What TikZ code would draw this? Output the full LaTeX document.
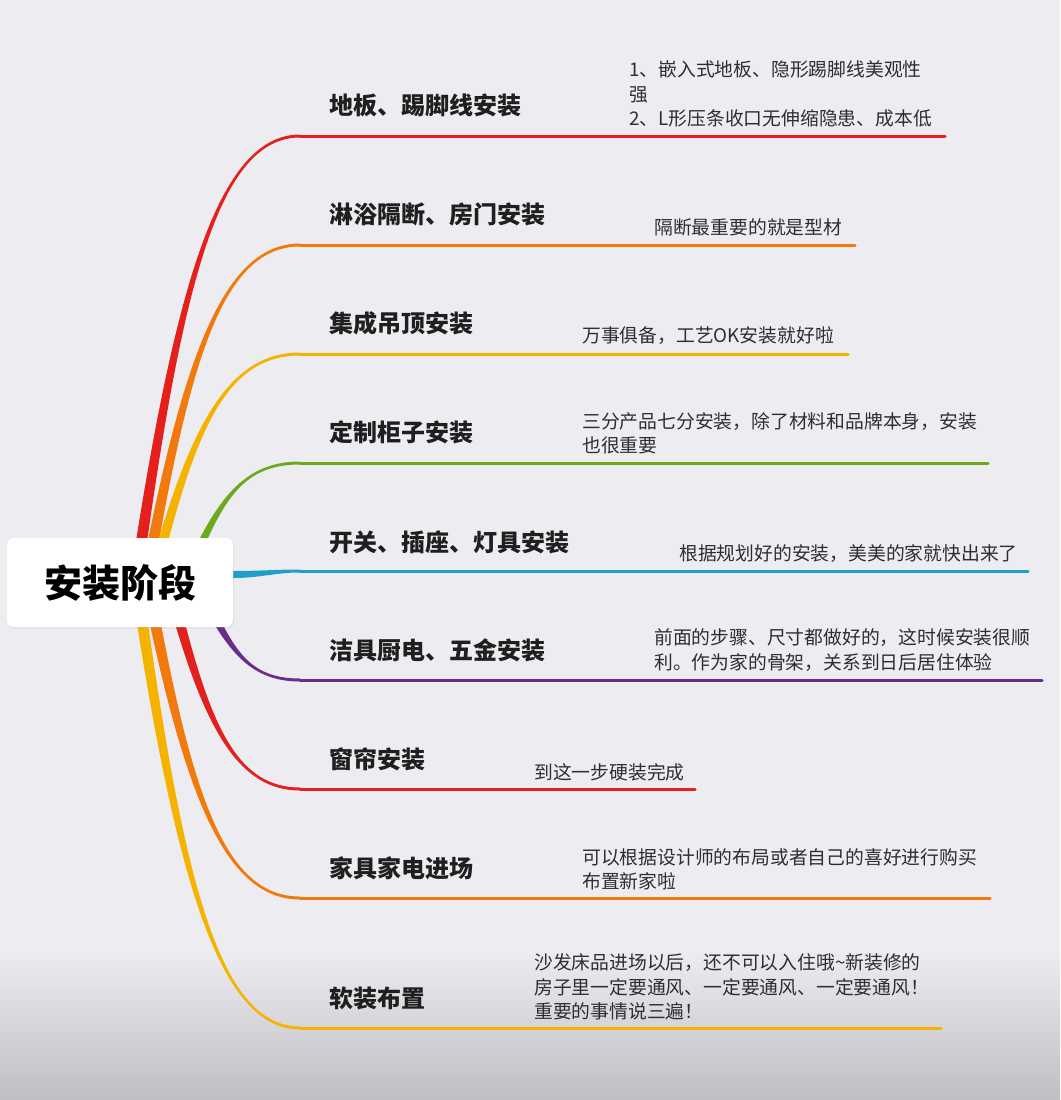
\documentclass[tikz,border=0pt]{standalone}
\usepackage{fontspec}
\setmainfont{Noto Sans CJK SC}
\usetikzlibrary{shadows}
\definecolor{bgcol}{HTML}{EDEDF1}
\definecolor{bgdark}{HTML}{BEBEC3}
\definecolor{brred}{HTML}{E3201B}
\definecolor{brorange}{HTML}{F27A0C}
\definecolor{brgold}{HTML}{F5B300}
\definecolor{brgreen}{HTML}{6CA91C}
\definecolor{brblue}{HTML}{1E9FCB}
\definecolor{brpurple}{HTML}{6A2B8A}
\tikzset{
  topic/.style={anchor=west,inner sep=0pt,text=black!88,font=\fontsize{24}{28}\selectfont\bfseries},
  note/.style={anchor=west,inner sep=0pt,align=left,text=black!82,font=\fontsize{18.8}{24.2}\selectfont},
  rootbox/.style={fill=white,rounded corners=7pt,minimum width=226pt,minimum height=89pt,inner sep=0pt,
    font=\fontsize{38}{40}\selectfont\bfseries,drop shadow={opacity=0.12,shadow xshift=1pt,shadow yshift=-1.5pt}}
}
\begin{document}
\begin{tikzpicture}[x=1pt,y=-1pt,line cap=round,line join=round]
\useasboundingbox (0,0) rectangle (1060,1100);
\fill[bgcol] (0,0) rectangle (1060,1100);
\shade[top color=bgcol,bottom color=bgdark] (0,950) rectangle (1060,1100);
% branches above the root
\foreach \n/\xo/\w/\yl/\xe/\col in {1/142/11/136/945/brred,2/154/11/245/855/brorange,3/164/10/354/848/brgold,4/204/8/463/988/brgreen}{
  \pgfmathsetmacro\h{\w/2}
  \pgfmathsetmacro\ax{\xo+0.25*(300-\xo)}
  \pgfmathsetmacro\ay{538+0.65*(\yl-538)}
  \pgfmathsetmacro\bx{\xo+0.5*(300-\xo)}
  \coordinate (r\n) at (\xo,538);
  \coordinate (b\n) at (300,\yl);
  \coordinate (e\n) at (\xe,\yl);
  \fill[\col] ([xshift=-\h pt,yshift=-12pt]r\n) -- ([xshift=-\h pt]r\n) .. controls (\ax-0.6*\h,\ay) and (\bx,\yl-1.5) .. ([yshift=1.5pt]b\n)
    -- ([yshift=-1.5pt]b\n) .. controls (\bx,\yl+1.5) and (\ax+0.6*\h,\ay) .. ([xshift=\h pt]r\n) -- ([xshift=\h pt,yshift=-12pt]r\n) -- cycle;
  \draw[\col,line width=3pt] (b\n) -- (e\n);
}
% branch on the right
\coordinate (r5) at (233,574.5);
\coordinate (b5) at (300,571);
\coordinate (e5) at (1028,571);
\fill[brblue] ([xshift=-10pt,yshift=3.5pt]r5) -- ([yshift=3.5pt]r5) .. controls (260,571) and (275,569.5) .. ([yshift=1.5pt]b5)
  -- ([yshift=-1.5pt]b5) .. controls (275,572.5) and (260,578) .. ([yshift=-3.5pt]r5) -- ([xshift=-10pt,yshift=-3.5pt]r5) -- cycle;
\draw[brblue,line width=3pt] (b5) -- (e5);
% branches below the root
\foreach \n/\xo/\w/\yl/\xe/\col in {6/220/8/680/1042/brpurple,7/181/10/789/695/brred,8/156/11/898/990/brorange,9/143/11/1028/941/brgold}{
  \pgfmathsetmacro\h{\w/2}
  \pgfmathsetmacro\ax{\xo+0.25*(300-\xo)}
  \pgfmathsetmacro\ay{627+0.65*(\yl-627)}
  \pgfmathsetmacro\bx{\xo+0.5*(300-\xo)}
  \coordinate (r\n) at (\xo,627);
  \coordinate (b\n) at (300,\yl);
  \coordinate (e\n) at (\xe,\yl);
  \fill[\col] ([xshift=-\h pt,yshift=12pt]r\n) -- ([xshift=-\h pt]r\n) .. controls (\ax-0.6*\h,\ay) and (\bx,\yl+1.5) .. ([yshift=-1.5pt]b\n)
    -- ([yshift=1.5pt]b\n) .. controls (\bx,\yl-1.5) and (\ax+0.6*\h,\ay) .. ([xshift=\h pt]r\n) -- ([xshift=\h pt,yshift=12pt]r\n) -- cycle;
  \draw[\col,line width=3pt] (b\n) -- (e\n);
}
\node[rootbox] (root) at (120,582.5) {安装阶段};
% topics
\foreach \n/\y/\txt in {1/105/地板、踢脚线安装,2/214/淋浴隔断、房门安装,3/323/集成吊顶安装,4/432/定制柜子安装,5/542/开关、插座、灯具安装,6/650/洁具厨电、五金安装,7/759/窗帘安装,8/868/家具家电进场,9/998/软装布置}
  \node[topic] (t\n) at (329,\y) {\txt};
% notes
\node[note] (n1) at (629,94) {1、嵌入式地板、隐形踢脚线美观性\\强\\2、L形压条收口无伸缩隐患、成本低};
\node[note] (n2) at (654,227) {隔断最重要的就是型材};
\node[note] (n3) at (582,336) {万事俱备，工艺OK安装就好啦};
\node[note] (n4) at (582,433) {三分产品七分安装，除了材料和品牌本身，安装\\也很重要};
\node[note] (n5) at (679,554) {根据规划好的安装，美美的家就快出来了};
\node[note] (n6) at (654,650) {前面的步骤、尺寸都做好的，这时候安装很顺\\利。作为家的骨架，关系到日后居住体验};
\node[note] (n7) at (534,772) {到这一步硬装完成};
\node[note] (n8) at (582,869) {可以根据设计师的布局或者自己的喜好进行购买\\布置新家啦};
\node[note] (n9) at (534,987) {沙发床品进场以后，还不可以入住哦\textasciitilde 新装修的\\房子里一定要通风、一定要通风、一定要通风！\\重要的事情说三遍！};
\end{tikzpicture}
\end{document}
